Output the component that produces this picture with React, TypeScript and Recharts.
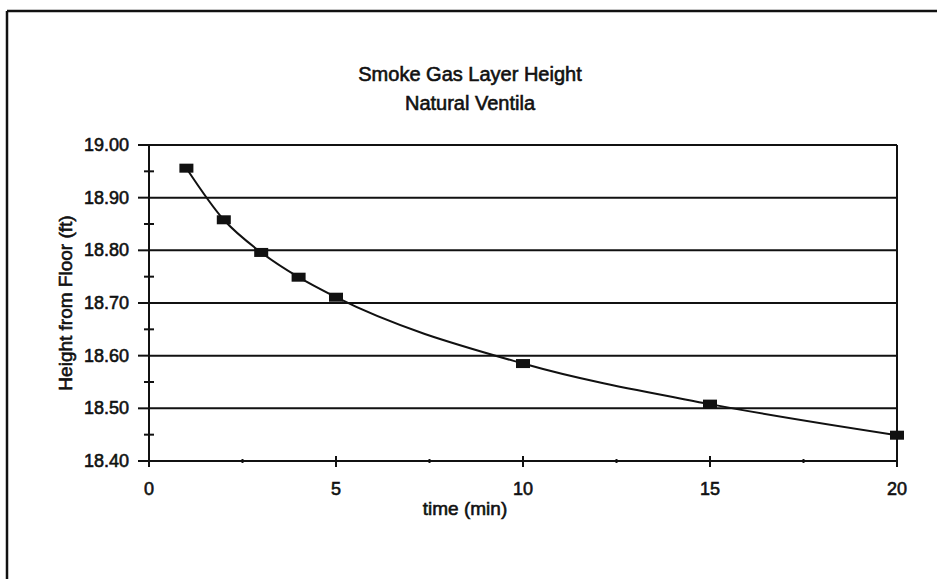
import React from 'react';
import { LineChart, Line, XAxis, YAxis, ReferenceLine } from 'recharts';

const times = [1, 2, 3, 4, 5, 10, 15, 20];
const heights = [18.956, 18.858, 18.796, 18.749, 18.711, 18.585, 18.508, 18.449];
const xTicks = [0, 2.5, 5, 7.5, 10, 12.5, 15, 17.5, 20];
const xMajor = [0, 5, 10, 15, 20];
const yTicks = [18.4, 18.45, 18.5, 18.55, 18.6, 18.65, 18.7, 18.75, 18.8, 18.85, 18.9, 18.95, 19.0];
const yMajor = [18.4, 18.5, 18.6, 18.7, 18.8, 18.9, 19.0];
const titleLines = ['Smoke Gas Layer Height', 'Natural Ventila'];
const xLabel = 'time (min)';
const yLabel = 'Height from Floor (ft)';

const data = times.map((t, i) => ({ t, h: heights[i] }));

const W = 937;
const H = 579;
const FONT = '"Liberation Sans", Arial, Helvetica, sans-serif';
const INK = '#111';
const TEXT_STROKE = 0.6;

const isMajorX = (v: number) => xMajor.some((m) => Math.abs(m - v) < 1e-6);
const isMajorY = (v: number) => yMajor.some((m) => Math.abs(m - v) < 1e-6);

const XTick = (props: any) => {
  const { x, y, payload } = props;
  const major = isMajorX(payload.value);
  return (
    <g>
      {major ? (
        <line x1={x} x2={x} y1={y - 5} y2={y + 6} stroke={INK} strokeWidth={2} />
      ) : (
        <line x1={x} x2={x} y1={y - 2} y2={y + 2} stroke={INK} strokeWidth={2} />
      )}
      {major && (
        <text x={x} y={y + 34} textAnchor="middle" fontFamily={FONT} fontSize={18} fill={INK} stroke={INK} strokeWidth={TEXT_STROKE}>
          {String(payload.value)}
        </text>
      )}
    </g>
  );
};

const YTick = (props: any) => {
  const { x, y, payload } = props;
  const major = isMajorY(payload.value);
  return (
    <g>
      {major ? (
        <line x1={x - 11} x2={x} y1={y} y2={y} stroke={INK} strokeWidth={2} />
      ) : (
        <line x1={x - 5} x2={x + 5} y1={y} y2={y} stroke={INK} strokeWidth={2} />
      )}
      {major && (
        <text x={x - 20} y={y + 6} textAnchor="end" fontFamily={FONT} fontSize={18} fill={INK} stroke={INK} strokeWidth={TEXT_STROKE}>
          {Number(payload.value).toFixed(2)}
        </text>
      )}
    </g>
  );
};

const SquareDot = (props: any) => {
  const { cx, cy, index } = props;
  if (cx == null || cy == null) return <g key={index} />;
  return <rect key={index} x={cx - 7} y={cy - 4.5} width={14} height={9} fill={INK} />;
};

export default function App() {
  return (
    <div style={{ position: 'absolute', left: 0, top: 0, width: W, height: H, background: '#fff' }}>
      <LineChart
        width={W}
        height={H}
        data={data}
        margin={{ top: 145, right: 40, bottom: 78, left: 49 }}
      >
        <line x1={7} y1={11} x2={W} y2={11} stroke={INK} strokeWidth={2.5} />
        <line x1={7} y1={11} x2={7} y2={H} stroke={INK} strokeWidth={2.5} />
        <text x={470} y={81} textAnchor="middle" fontFamily={FONT} fontSize={20} fill={INK} stroke={INK} strokeWidth={TEXT_STROKE}>
          {titleLines[0]}
        </text>
        <text x={470} y={110} textAnchor="middle" fontFamily={FONT} fontSize={20} fill={INK} stroke={INK} strokeWidth={TEXT_STROKE}>
          {titleLines[1]}
        </text>
        <text x={465} y={515} textAnchor="middle" fontFamily={FONT} fontSize={19} fill={INK} stroke={INK} strokeWidth={TEXT_STROKE}>
          {xLabel}
        </text>
        <text
          x={72}
          y={303}
          textAnchor="middle"
          fontFamily={FONT}
          fontSize={19}
          fill={INK}
          stroke={INK}
          strokeWidth={TEXT_STROKE}
          transform="rotate(-90 72 303)"
        >
          {yLabel}
        </text>
        <XAxis
          dataKey="t"
          type="number"
          domain={[0, 20]}
          ticks={xTicks}
          interval={0}
          height={40}
          tickSize={0}
          tickMargin={0}
          tickLine={false}
          axisLine={{ stroke: INK, strokeWidth: 2 }}
          tick={<XTick />}
        />
        <YAxis
          type="number"
          domain={[18.4, 19.0]}
          ticks={yTicks}
          interval={0}
          width={100}
          tickSize={0}
          tickMargin={0}
          tickLine={false}
          axisLine={{ stroke: INK, strokeWidth: 2 }}
          tick={<YTick />}
        />
        {yMajor.slice(1).map((v) => (
          <ReferenceLine key={v} y={v} stroke={INK} strokeWidth={2} />
        ))}
        <ReferenceLine x={20} stroke={INK} strokeWidth={2} />
        <Line
          dataKey="h"
          type="monotone"
          stroke={INK}
          strokeWidth={2}
          dot={<SquareDot />}
          activeDot={false}
          isAnimationActive={false}
        />
      </LineChart>
    </div>
  );
}
